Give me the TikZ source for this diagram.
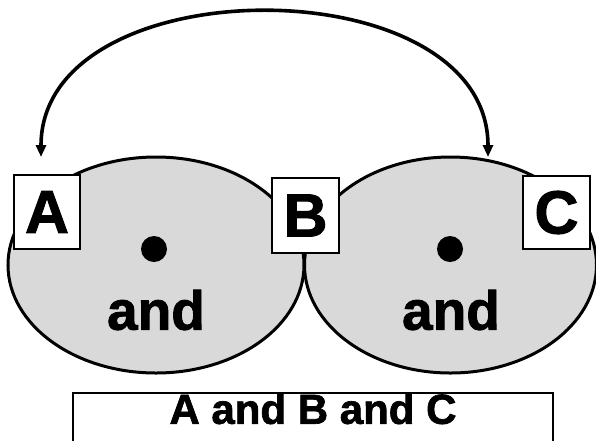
\documentclass[tikz,border=0pt]{standalone}
\usepackage{fontspec}
\setmainfont{Liberation Sans}[BoldFeatures={FakeBold=1.6}]
\usepackage{tikz}
\usepackage{xcolor}
\usetikzlibrary{arrows.meta,positioning,shapes,calc}
\definecolor{shade}    {HTML}{D9D9D9}
\definecolor{ink}      {HTML}{000000}

\tikzset{
  setpart/.style  ={ellipse,draw=ink,line width=3pt,fill=shade,inner sep=0pt},
  letterbox/.style={draw=ink,line width=1.8pt,fill=white,inner sep=0pt,
                    font=\fontsize{61}{61}\selectfont\bfseries},
  andlabel/.style ={inner sep=0pt,font=\fontsize{55}{55}\selectfont\bfseries},
  centre/.style   ={circle,fill=ink,minimum size=26pt,inner sep=0pt}
}

\begin{document}
\begin{tikzpicture}[x=1pt,y=-1pt]
    \useasboundingbox (0,0) rectangle (596,440);
    \clip (0,0) rectangle (596,440);

    % the two overlapping sets
    \node[setpart,minimum width=296pt,minimum height=216pt] (left)  at (156,265)   {};
    \node[setpart,minimum width=292pt,minimum height=216pt] (right) at (450.5,265) {};

    \node[centre] (dotL) at (154,249)   {};
    \node[centre] (dotR) at (450,249)   {};
    \node[andlabel] (andL) at (156,310) {and};
    \node[andlabel] (andR) at (451,310) {and};

    % labels on the rims
    \node[letterbox,minimum width=66pt,minimum height=74pt] (boxA) at (47,212)    {A};
    \node[letterbox,minimum width=67pt,minimum height=75pt] (boxB) at (305.5,215.5) {B};
    \node[letterbox,minimum width=67pt,minimum height=73pt] (boxC) at (556.5,212.5) {C};

    % link between the ends
    \coordinate (tipA) at (41,157);
    \coordinate (tipC) at (488,157);
    \draw[ink,line width=3.6pt,{Triangle[length=12pt,width=10pt]}-{Triangle[length=12pt,width=10pt]}]
      (tipA) .. controls (41,-35) and (488,-35) .. (tipC);

    % result
    \node[draw=ink,line width=1.6pt,fill=white,anchor=north,
          minimum width=480pt,inner ysep=0pt,text height=31pt,text depth=50pt,
          font=\fontsize{42}{42}\selectfont\bfseries]
      (result) at (313,392) {A and B and C};
\end{tikzpicture}
\end{document}
